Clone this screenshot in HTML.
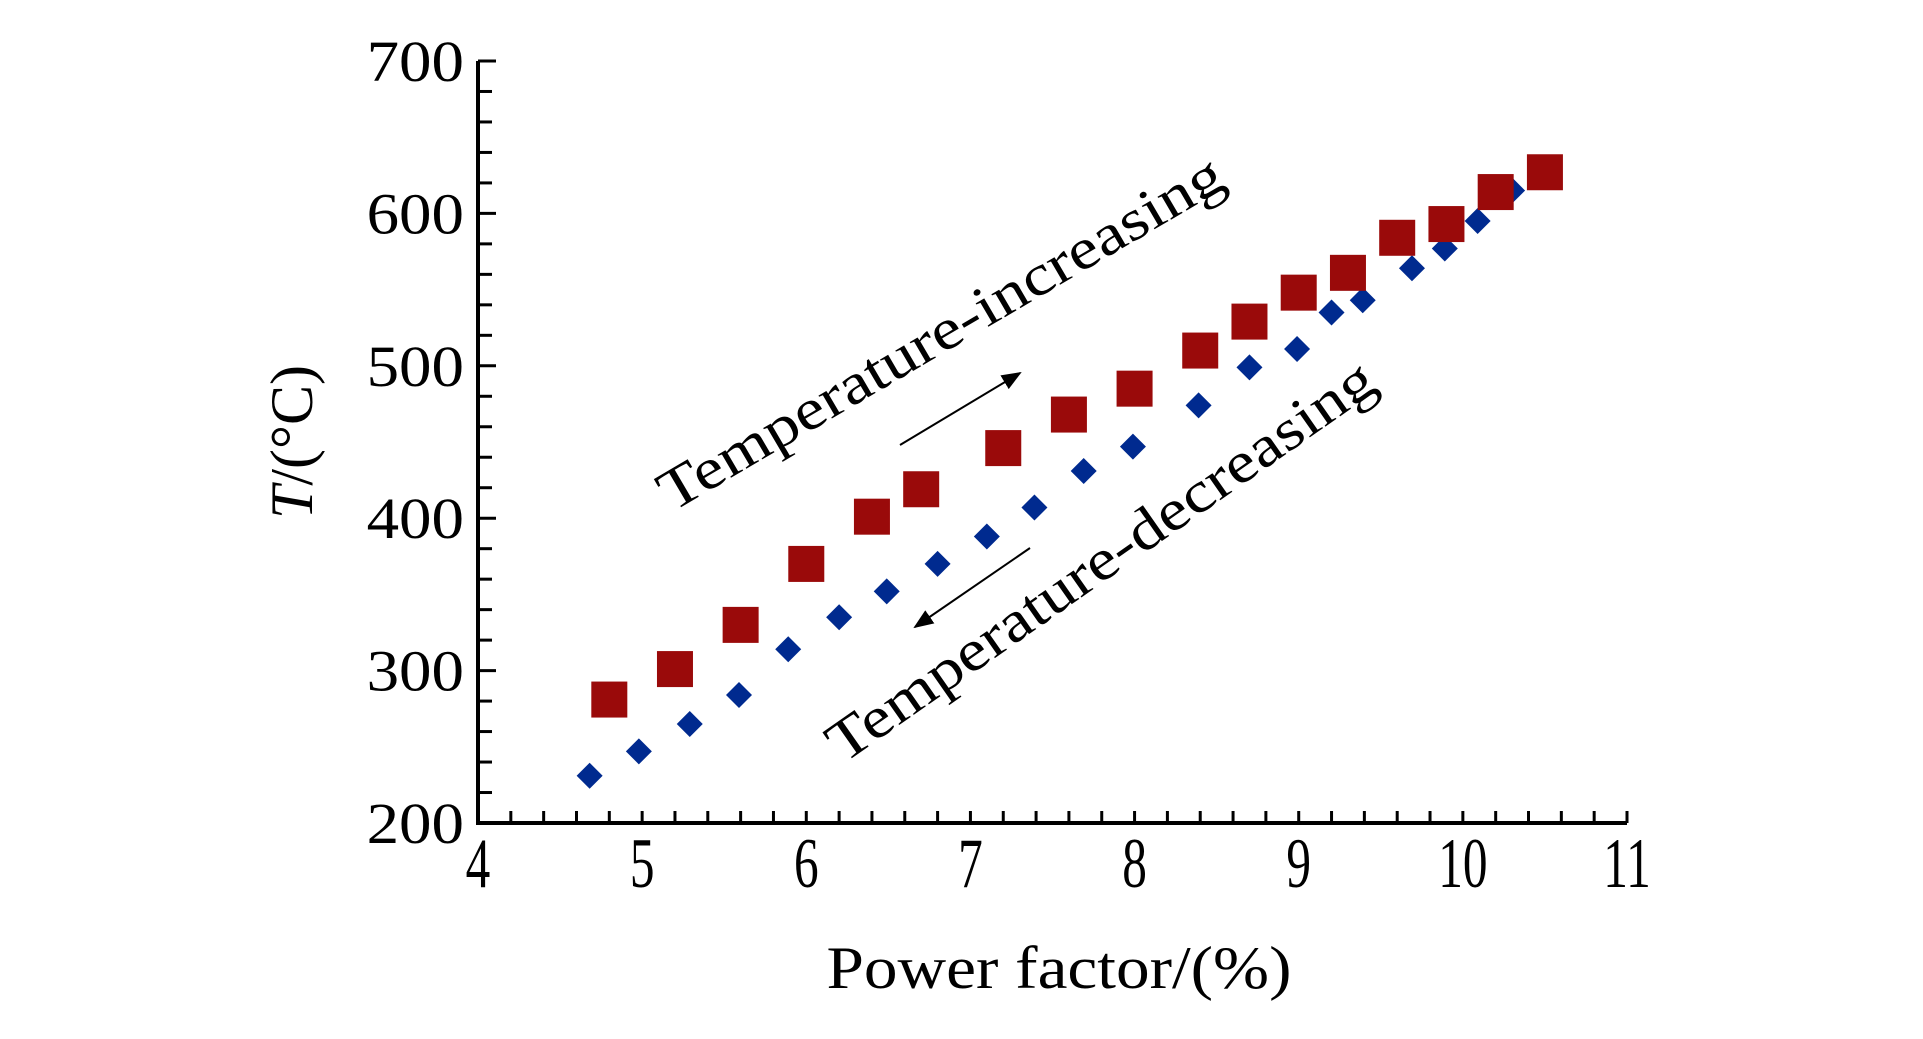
<!DOCTYPE html>
<html><head><meta charset="utf-8"><style>
html,body{margin:0;padding:0;background:#fff;}
svg{display:block;font-family:"Liberation Serif",serif;}
</style></head><body>
<svg id="chart" width="1923" height="1039" viewBox="0 0 1923 1039">
<g id="axes"></g>
<g id="marks"></g>
<text x="1059" y="988" font-size="60" text-anchor="middle" textLength="465" lengthAdjust="spacingAndGlyphs">Power factor/(%)</text>
<text transform="translate(312,442) rotate(-90)" font-size="60" text-anchor="middle"><tspan font-style="italic">T</tspan>/(°C)</text>
<text transform="translate(940,332) rotate(-30.4)" font-size="58" text-anchor="middle" textLength="645" lengthAdjust="spacingAndGlyphs" dy="20">Temperature-increasing</text>
<text transform="translate(1100,560) rotate(-35)" font-size="58" text-anchor="middle" textLength="655" lengthAdjust="spacingAndGlyphs" dy="20">Temperature-decreasing</text>
<defs><marker id="ah" markerWidth="10" markerHeight="8" refX="9" refY="4" orient="auto"><path d="M0,0 L10,4 L0,8 Z" fill="#000"/></marker></defs>
<line x1="900" y1="445" x2="1020" y2="373" stroke="#000" stroke-width="2" marker-end="url(#ah)"/>
<line x1="1030" y1="548" x2="915" y2="627" stroke="#000" stroke-width="2" marker-end="url(#ah)"/>
</svg>
<script>
const xTicks=[4,5,6,7,8,9,10,11];
const yTicks=[200,300,400,500,600,700];
const incX=[4.8,5.2,5.6,6.0,6.4,6.7,7.2,7.6,8.0,8.4,8.7,9.0,9.3,9.6,9.9,10.2,10.5];
const incY=[281,301,330,370,401,419,446,468,485,510,529,548,561,584,593,614,627];
const decX=[4.68,4.98,5.29,5.59,5.89,6.2,6.49,6.8,7.1,7.39,7.69,7.99,8.39,8.7,8.99,9.2,9.39,9.69,9.89,10.09,10.3];
const decY=[231,247,265,284,314,335,352,370,388,407,431,447,474,499,511,535,543,564,577,595,615];

const NS="http://www.w3.org/2000/svg";
const X0=478,X1=1627,Y0=823,Y1=61;
const sx=v=>X0+(v-4)/(11-4)*(X1-X0);
const sy=v=>Y0-(v-200)/(700-200)*(Y0-Y1);
const axes=document.getElementById('axes'),marks=document.getElementById('marks');
function mk(tag,attrs,parent){const e=document.createElementNS(NS,tag);for(const k in attrs)e.setAttribute(k,attrs[k]);parent.appendChild(e);return e;}

let yAxis=mk('line',{x1:X0,y1:Y1,x2:X0,y2:Y0,stroke:'#000','stroke-width':4},axes);


let xAxis=mk('line',{x1:X0-2,y1:Y0,x2:X1,y2:Y0,stroke:'#000','stroke-width':4},axes);



for(let v=200;v<=700;v+=20){
  const major=(v%100===0);
  const t=mk('line',{x1:X0,y1:sy(v),x2:X0+(major?18:14),y2:sy(v),stroke:'#000','stroke-width':3},axes);
  
  
}
for(let i=0;i<=35;i++){
  const v=4+i*0.2;
  const t=mk('line',{x1:sx(v),y1:Y0,x2:sx(v),y2:Y0-12,stroke:'#000','stroke-width':3},axes);
  
  
}
yTicks.forEach(v=>{
  const t=mk('text',{x:0,y:0,'font-size':58,'text-anchor':'end',transform:`translate(${X0-14},${sy(v)+20}) scale(1.12,1)`},axes);
  t.textContent=v;
  
  
});
xTicks.forEach(v=>{
  const t=mk('text',{x:0,y:0,'font-size':58,'text-anchor':'middle',transform:`translate(${sx(v)},${Y0+64}) scale(0.85,1.22)`},axes);
  t.textContent=v;
  
  
});
decX.forEach((x,i)=>{
  const cx=sx(x),cy=sy(decY[i]),r=13;
  const p=mk('polygon',{points:`${cx-r},${cy} ${cx},${cy-r} ${cx+r},${cy} ${cx},${cy+r}`,fill:'#002a8f'},marks);
  
  
});
incX.forEach((x,i)=>{
  const cx=sx(x),cy=sy(incY[i]),s=36;
  const p=mk('rect',{x:cx-s/2,y:cy-s/2,width:s,height:s,fill:'#9a0a0a'},marks);
  
  
});
</script>
</body></html>
